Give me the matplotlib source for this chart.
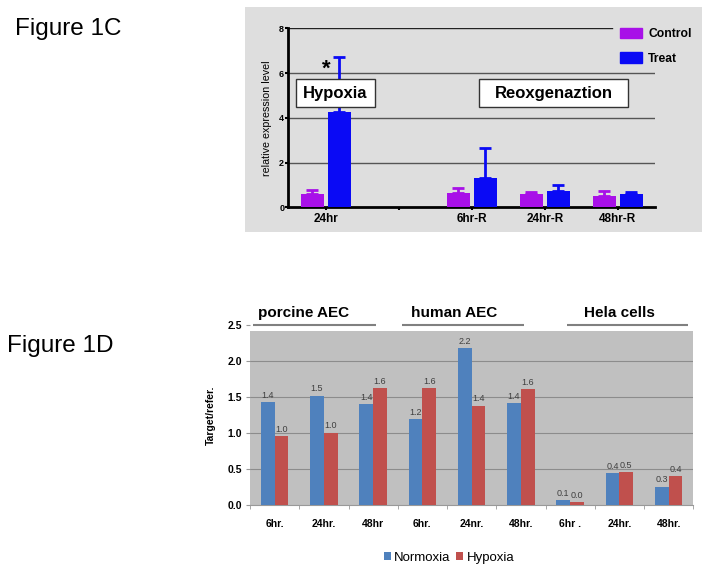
import matplotlib
matplotlib.use("Agg")
import matplotlib.pyplot as plt
from matplotlib.patches import Rectangle, Patch
import numpy as np

plt.rcParams['font.family'] = ['Liberation Sans', 'DejaVu Sans']

# ---------------- Figure 1C data ----------------
c_categories = ['24hr', '', '6hr-R', '24hr-R', '48hr-R']
c_control = [0.58, np.nan, 0.66, 0.58, 0.52]
c_control_err = [0.20, np.nan, 0.22, 0.12, 0.23]
c_treat = [4.25, np.nan, 1.33, 0.75, 0.58]
c_treat_err = [2.45, np.nan, 1.34, 0.25, 0.11]
c_yticks = [0, 2, 4, 6, 8]

# ---------------- Figure 1D data ----------------
d_categories = ['6hr.', '24hr.', '48hr', '6hr.', '24nr.', '48hr.', '6hr .', '24hr.', '48hr.']
d_normoxia = [1.435, 1.52, 1.40, 1.195, 2.185, 1.41, 0.07, 0.444, 0.255]
d_hypoxia = [0.954, 1.005, 1.625, 1.625, 1.38, 1.606, 0.04, 0.458, 0.403]
d_groups = ['porcine AEC', 'human AEC', 'Hela cells']
d_yticks = [0.0, 0.5, 1.0, 1.5, 2.0, 2.5]

W, H = 711, 573
fig = plt.figure(figsize=(W / 100, H / 100), dpi=100)

def ax_px(x0, y0, x1, y1, **kw):
    return fig.add_axes([x0 / W, 1 - y1 / H, (x1 - x0) / W, (y1 - y0) / H], **kw)

# Figure labels
fig.text(15 / W, 1 - 29 / H, 'Figure 1C', fontsize=17.5, va='center', ha='left')
fig.text(7 / W, 1 - 346 / H, 'Figure 1D', fontsize=17.5, va='center', ha='left')

# ---------------- Top chart ----------------
bg = ax_px(245, 7, 702, 232, zorder=-5)
bg.set_facecolor('#DEDEDE')
bg.set_xticks([]); bg.set_yticks([])
for s in bg.spines.values():
    s.set_visible(False)

ax1 = ax_px(288.3, 28.3, 655, 207.3)
ax1.set_facecolor('none')
x = np.arange(len(c_categories))
w = 0.315
off = 0.185
purple = '#A810E8'
blue = '#0A0AF5'
ax1.bar(x - off, c_control, w, color=purple, zorder=3)
ax1.bar(x + off, c_treat, w, color=blue, zorder=3)
cc = np.array(c_control); ce = np.array(c_control_err)
tc = np.array(c_treat); te = np.array(c_treat_err)
ax1.errorbar(x - off, cc, yerr=[np.zeros_like(ce), ce], fmt='none', ecolor=purple,
             elinewidth=2, capsize=4.5, capthick=2, zorder=2)
ax1.errorbar(x + off, tc, yerr=[np.zeros_like(te), te], fmt='none', ecolor=blue,
             elinewidth=2, capsize=4.5, capthick=2, zorder=2)
ax1.set_xlim(-0.516, 4.507)
ax1.set_ylim(0, 8)
for yv in c_yticks[1:-1]:
    ax1.axhline(yv, color='#555555', lw=1, zorder=1)
ax1.axhline(8, xmax=0.883, color='#222222', lw=1, zorder=1)
for s in ['top', 'right']:
    ax1.spines[s].set_visible(False)
ax1.spines['left'].set_linewidth(2)
ax1.spines['bottom'].set_linewidth(2)
ax1.set_yticks(c_yticks)
ax1.set_yticklabels([str(v) for v in c_yticks], fontsize=6.5, fontweight='bold')
ax1.tick_params(axis='y', length=2, width=1.5, pad=1)
ax1.set_xticks(x)
ax1.set_xticklabels(c_categories, fontsize=8.5, fontweight='bold')
ax1.tick_params(axis='x', length=2, width=1.5, pad=2)
ax1.set_ylabel('relative expression level', fontsize=7.7, labelpad=5)

# boxes
for (xa, xb, label) in [(-0.415, 0.67, 'Hypoxia'), (2.09, 4.14, 'Reoxgenaztion')]:
    ax1.add_patch(Rectangle((xa, 4.47), xb - xa, 1.27, facecolor='white',
                            edgecolor='#333333', lw=1, zorder=5))
    ax1.text((xa + xb) / 2, 5.1, label, fontsize=12, fontweight='bold',
             ha='center', va='center', zorder=6)
ax1.text(0, 6.15, '*', fontsize=16, fontweight='bold', ha='center', va='center', zorder=6)

leg1 = ax1.legend(handles=[Patch(color=purple, label='Control'), Patch(color=blue, label='Treat')],
                  loc='upper left', bbox_to_anchor=(616 / W, 1 - 24 / H),
                  bbox_transform=fig.transFigure, frameon=False, fontsize=8.7,
                  handlelength=1.85, handleheight=0.9, labelspacing=1.05,
                  handletextpad=0.5, borderaxespad=0, borderpad=0.3)
for t in leg1.get_texts():
    t.set_fontweight('bold')

# ---------------- Bottom chart ----------------
ax2 = ax_px(250, 325, 693.3, 505)
ax2.set_facecolor('white')
xd = np.arange(len(d_categories))
bw = 0.28
nblue = '#4F81BD'
hred = '#C0504D'
ax2.axhspan(0, 2.42, facecolor='#C0C0C0', zorder=0)
for yv in d_yticks[1:-1]:
    ax2.axhline(yv, color='#8C8C8C', lw=0.8, zorder=1)
b1 = ax2.bar(xd - bw / 2, d_normoxia, bw, color=nblue, zorder=3, label='Normoxia')
b2 = ax2.bar(xd + bw / 2, d_hypoxia, bw, color=hred, zorder=3, label='Hypoxia')
for bars, vals in [(b1, d_normoxia), (b2, d_hypoxia)]:
    for r, v in zip(bars, vals):
        ax2.text(r.get_x() + r.get_width() / 2, v + 0.03, f'{v:.1f}', fontsize=6.5,
                 color='#404040', ha='center', va='bottom', zorder=4)
ax2.set_xlim(-0.5, len(d_categories) - 0.5)
ax2.set_ylim(0, 2.5)
for s in ['top', 'right']:
    ax2.spines[s].set_visible(False)
ax2.spines['left'].set_visible(False)
ax2.spines['bottom'].set_color('#999999')
ax2.set_yticks(d_yticks)
ax2.set_yticklabels([f'{v:.1f}' for v in d_yticks], fontsize=7.5, fontweight='bold')
ax2.tick_params(axis='y', length=3, color='#999999', pad=3)
ax2.set_xticks(xd)
ax2.set_xticklabels(d_categories, fontsize=7.5, fontweight='bold')
ax2.tick_params(axis='x', length=0, pad=10)
ax2.set_xticks(np.arange(-0.5, len(d_categories), 1), minor=True)
ax2.tick_params(axis='x', which='minor', length=3, color='#999999')
ax2.set_ylabel('Target/refer.', fontsize=7.5, fontweight='bold', labelpad=8)

# group labels and underlines
group_text_x = [0.58, 3.65, 7.01]
group_line = [(-0.44, 2.05), (2.58, 5.06), (5.93, 8.40)]
for g, tx, (la, lb) in zip(d_groups, group_text_x, group_line):
    ax2.text(tx, 2.67, g, fontsize=11, fontweight='bold', ha='center', va='center',
             clip_on=False)
    ax2.plot([la, lb], [2.5, 2.5], color='#808080', lw=1.5, clip_on=False,
             solid_capstyle='butt')

ax2.legend(handles=[b1, b2], loc='center', bbox_to_anchor=(449 / W, 1 - 558 / H),
           bbox_transform=fig.transFigure, ncol=2, frameon=False, fontsize=9.5,
           handlelength=0.55, handleheight=0.55, handletextpad=0.25,
           columnspacing=0.4, borderpad=0, borderaxespad=0)

fig.savefig('out.png', dpi=100)
